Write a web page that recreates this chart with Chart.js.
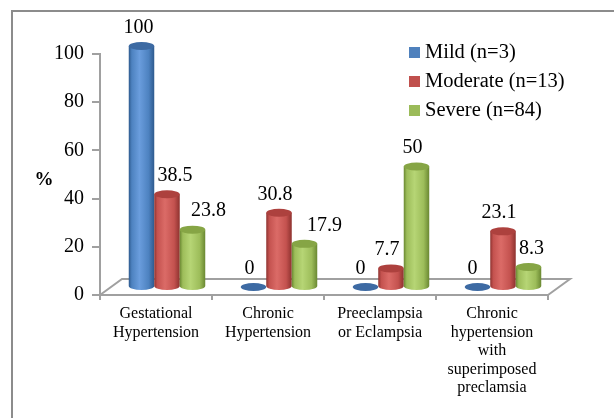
<!DOCTYPE html>
<html>
<head>
<meta charset="utf-8">
<script src="https://cdn.jsdelivr.net/npm/chart.js@4/dist/chart.umd.min.js"></script>
<style>
  html, body { margin: 0; padding: 0; background: #fff; }
  canvas { display: block; }
</style>
</head>
<body>
<canvas id="chart" width="614" height="418"></canvas>
<script>
// Hypertensive disorder type by severity group (%)
const categories = [
  ["Gestational", "Hypertension"],
  ["Chronic", "Hypertension"],
  ["Preeclampsia", "or Eclampsia"],
  ["Chronic", "hypertension", "with", "superimposed", "preclamsia"]
];
const seriesNames = ["Mild (n=3)", "Moderate (n=13)", "Severe (n=84)"];
const mild = [100, 0, 0, 0];
const moderate = [38.5, 30.8, 7.7, 23.1];
const severe = [23.8, 17.9, 50, 8.3];
const yTicks = [0, 20, 40, 60, 80, 100];

const SERIF = '"Liberation Serif", "Times New Roman", serif';
const AXIS_GRAY = '#a0a0a0';

// shading for each series: edge, body, highlight, top cap
const palettes = [
  { edge: '#2e5a8e', mid: '#4d82c0', light: '#6a9ddd', cap: '#3d6aa3', key: '#4f81bd' },
  { edge: '#8e322f', mid: '#c4524f', light: '#db6b67', cap: '#ad413e', key: '#c0504d' },
  { edge: '#6a8832', mid: '#9dbd5a', light: '#b6d575', cap: '#86a545', key: '#9bbb59' }
];

// horizontal nudges for value labels [series][category]
const labelShift = [
  [-3, -4, -5, -5],
  [8, -4, -4, -4],
  [16, 20, -4, 3]
];

const floorDepth = { dx: 22, dy: -16 };

function drawCylinder(ctx, cx, top, bottom, w, pal) {
  const rx = w / 2, ry = 4;
  if (bottom - top < 0.5) {
    ctx.beginPath();
    ctx.ellipse(cx, bottom, rx, ry, 0, 0, Math.PI * 2);
    ctx.fillStyle = pal.cap;
    ctx.fill();
    return;
  }
  const g = ctx.createLinearGradient(cx - rx, 0, cx + rx, 0);
  g.addColorStop(0, pal.edge);
  g.addColorStop(0.12, pal.mid);
  g.addColorStop(0.42, pal.light);
  g.addColorStop(0.78, pal.mid);
  g.addColorStop(1, pal.edge);
  ctx.beginPath();
  ctx.moveTo(cx - rx, top);
  ctx.lineTo(cx - rx, bottom);
  ctx.ellipse(cx, bottom, rx, ry, 0, Math.PI, 0, true);
  ctx.lineTo(cx + rx, top);
  ctx.closePath();
  ctx.fillStyle = g;
  ctx.fill();

  ctx.beginPath();
  ctx.ellipse(cx, top, rx, ry, 0, 0, Math.PI * 2);
  ctx.fillStyle = pal.cap;
  ctx.fill();
}

const cylinderPlugin = {
  id: 'cylinders',
  beforeDraw(chart) {
    const ctx = chart.ctx;
    ctx.save();
    ctx.fillStyle = '#fff';
    ctx.fillRect(0, 0, chart.width, chart.height);
    ctx.strokeStyle = '#8c8c8c';
    ctx.lineWidth = 2;
    ctx.strokeRect(12, 11, chart.width + 20, chart.height + 20);
    ctx.restore();
  },
  beforeDatasetsDraw(chart) {
    const ctx = chart.ctx;
    const x = chart.scales.x, y = chart.scales.y;
    const y0 = y.getPixelForValue(0);
    const { dx, dy } = floorDepth;
    ctx.save();
    ctx.strokeStyle = AXIS_GRAY;
    ctx.lineWidth = 2;
    ctx.beginPath();
    ctx.moveTo(x.left, y0);
    ctx.lineTo(x.left + dx, y0 + dy);
    ctx.lineTo(x.right + dx, y0 + dy);
    ctx.lineTo(x.right, y0);
    ctx.stroke();
    ctx.restore();
  },
  afterDatasetsDraw(chart) {
    const ctx = chart.ctx;
    const ox = floorDepth.dx / 2, oy = floorDepth.dy / 2;
    ctx.save();
    const nCat = chart.data.labels.length;
    const nSer = chart.data.datasets.length;
    for (let j = 0; j < nCat; j++) {
      for (let i = 0; i < nSer; i++) {
        const bar = chart.getDatasetMeta(i).data[j];
        drawCylinder(ctx, bar.x + ox, bar.y + oy, bar.base + oy, bar.width, palettes[i]);
      }
    }
    // value labels
    ctx.fillStyle = '#000';
    ctx.font = '20px ' + SERIF;
    ctx.textAlign = 'center';
    ctx.textBaseline = 'middle';
    for (let i = 0; i < nSer; i++) {
      const ds = chart.data.datasets[i];
      chart.getDatasetMeta(i).data.forEach((bar, j) => {
        ctx.fillText(String(ds.data[j]), bar.x + ox + labelShift[i][j], bar.y + oy - 18.5);
      });
    }
    // legend
    ctx.textAlign = 'left';
    ctx.font = '20.5px ' + SERIF;
    chart.data.datasets.forEach((ds, i) => {
      const rowY = 52 + i * 29;
      ctx.fillStyle = palettes[i].key;
      ctx.fillRect(409, rowY - 5, 11, 11);
      ctx.fillStyle = '#000';
      ctx.fillText(ds.label, 425, rowY + 1);
    });
    // axis unit
    ctx.font = 'bold 19px ' + SERIF;
    ctx.textAlign = 'center';
    ctx.fillText('%', 44, 180);
    ctx.restore();
  }
};

new Chart(document.getElementById('chart'), {
  type: 'bar',
  data: {
    labels: categories,
    datasets: [mild, moderate, severe].map((vals, i) => ({
      label: seriesNames[i],
      data: vals,
      backgroundColor: 'rgba(0,0,0,0)',
      borderWidth: 0,
      categoryPercentage: 0.683,
      barPercentage: 1
    }))
  },
  options: {
    responsive: false,
    animation: false,
    devicePixelRatio: 1,
    layout: { padding: { left: 12, right: 66, top: 54, bottom: 0 } },
    plugins: {
      legend: { display: false },
      tooltip: { enabled: false }
    },
    scales: {
      x: {
        grid: { display: true, drawOnChartArea: false, drawTicks: true, tickLength: 5, color: AXIS_GRAY, lineWidth: 2 },
        border: { display: true, color: AXIS_GRAY, width: 2 },
        ticks: {
          color: '#000',
          font: { family: SERIF, size: 16, lineHeight: 1.15 },
          padding: 5,
          maxRotation: 0,
          autoSkip: false
        },
        afterFit(scale) { scale.height = 123; }
      },
      y: {
        min: 0,
        max: 100,
        afterBuildTicks(scale) { scale.ticks = yTicks.map(v => ({ value: v })); },
        grid: { display: true, drawOnChartArea: false, drawTicks: true, tickLength: 8, color: AXIS_GRAY, lineWidth: 2 },
        border: { display: true, color: AXIS_GRAY, width: 2 },
        ticks: {
          color: '#000',
          font: { family: SERIF, size: 20 },
          padding: 8
        },
        afterFit(scale) { scale.width = 88; }
      }
    }
  },
  plugins: [cylinderPlugin]
});
</script>
</body>
</html>
